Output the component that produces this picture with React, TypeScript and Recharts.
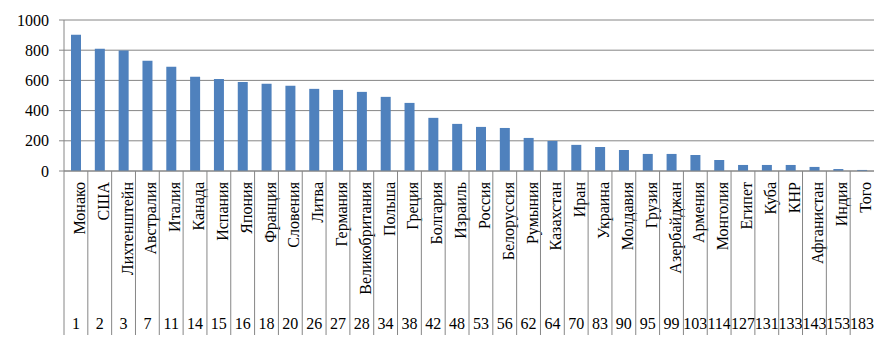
import React from 'react';
import { BarChart, Bar, XAxis, YAxis, CartesianGrid } from 'recharts';

const countries = [
  'Монако', 'США', 'Лихтенштейн', 'Австралия', 'Италия', 'Канада', 'Испания', 'Япония',
  'Франция', 'Словения', 'Литва', 'Германия', 'Великобритания', 'Польша', 'Греция', 'Болгария',
  'Израиль', 'Россия', 'Белоруссия', 'Румыния', 'Казахстан', 'Иран', 'Украина', 'Молдавия',
  'Грузия', 'Азербайджан', 'Армения', 'Монголия', 'Египет', 'Куба', 'КНР', 'Афганистан',
  'Индия', 'Того',
];

const ranks = [
  1, 2, 3, 7, 11, 14, 15, 16, 18, 20, 26, 27, 28, 34, 38, 42, 48, 53, 56, 62, 64, 70, 83, 90,
  95, 99, 103, 114, 127, 131, 133, 143, 153, 183,
];

const values = [
  902, 810, 798, 730, 690, 624, 610, 590, 577, 564, 544, 537, 524, 491, 451, 352, 312, 292,
  285, 219, 199, 173, 159, 139, 113, 113, 106, 73, 40, 40, 40, 27, 13, 7,
];

const yTicks = [0, 200, 400, 600, 800, 1000];

const data = countries.map((name, i) => ({ name, rank: ranks[i], value: values[i] }));

const FONT = 'Liberation Serif, DejaVu Serif, serif';
const GRID = '#868686';
const BAND = 810 / countries.length;

const textStyle: React.CSSProperties = { fontFamily: FONT, fontSize: 16 };

function CategoryTick(props: any) {
  const { x, y, payload, index } = props;
  const left = x - BAND / 2;
  return (
    <g>
      <line x1={left} y1={y} x2={left} y2={y + 164} stroke={GRID} strokeWidth={1} />
      <text
        transform={`translate(${x + 9}, ${y + 11}) rotate(-90)`}
        textAnchor="end"
        style={textStyle}
        fill="#000"
      >
        {payload.value}
      </text>
      <text x={x} y={y + 158} textAnchor="middle" style={textStyle} fill="#000">
        {ranks[index]}
      </text>
    </g>
  );
}

export default function App() {
  return (
    <div style={{ position: 'absolute', left: 0, top: 0, background: '#fff', fontFamily: FONT }}>
      <BarChart
        width={885}
        height={351}
        data={data}
        margin={{ top: 20, right: 11, bottom: 0, left: 0 }}
        barSize={10}
        style={{ fontFamily: FONT }}
      >
        <CartesianGrid vertical={false} stroke={GRID} strokeDasharray="" />
        <XAxis
          dataKey="name"
          interval={0}
          height={180}
          tickSize={0}
          tickMargin={0}
          tickLine={false}
          axisLine={{ stroke: GRID }}
          tick={<CategoryTick />}
        />
        <YAxis
          domain={[0, 1000]}
          ticks={yTicks}
          width={64}
          tickSize={5}
          tickMargin={10}
          axisLine={{ stroke: GRID }}
          tickLine={{ stroke: GRID }}
          tick={{ style: textStyle, fill: '#000' }}
        />
        <Bar dataKey="value" fill="#4F81BD" isAnimationActive={false} />
      </BarChart>
    </div>
  );
}
